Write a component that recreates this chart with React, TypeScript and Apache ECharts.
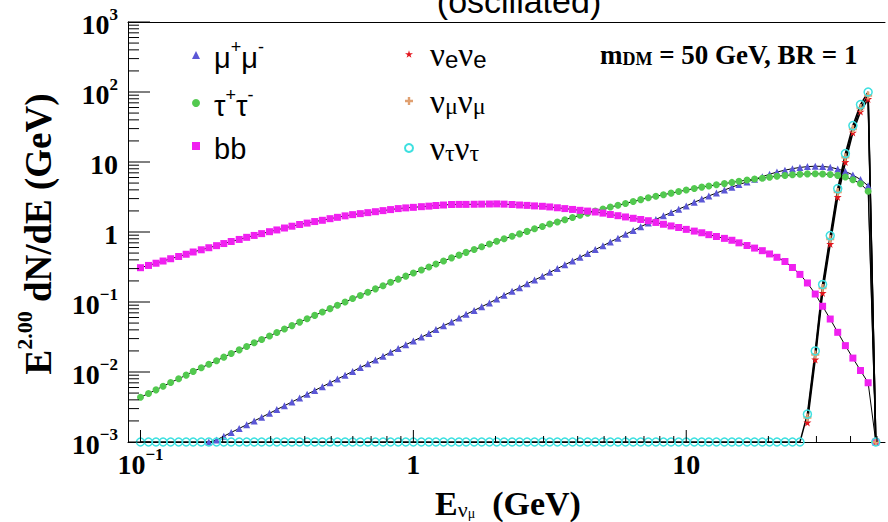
import React, { useEffect, useRef } from 'react';
import * as echarts from 'echarts';

// ---- data ----
const energies = [
  0.100, 0.107, 0.114, 0.121, 0.129, 0.138, 0.147, 0.156, 0.167, 0.178, 0.190, 0.202,
  0.215, 0.230, 0.245, 0.261, 0.278, 0.297, 0.316, 0.337, 0.359, 0.383, 0.408, 0.435,
  0.464, 0.495, 0.527, 0.562, 0.599, 0.639, 0.681, 0.726, 0.774, 0.825, 0.880, 0.938,
  1.00, 1.07, 1.14, 1.21, 1.29, 1.38, 1.47, 1.56, 1.67, 1.78, 1.90, 2.02,
  2.15, 2.30, 2.45, 2.61, 2.78, 2.97, 3.16, 3.37, 3.59, 3.83, 4.08, 4.35,
  4.64, 4.95, 5.27, 5.62, 5.99, 6.39, 6.81, 7.26, 7.74, 8.25, 8.80, 9.38,
  10.0, 10.7, 11.4, 12.1, 12.9, 13.8, 14.7, 15.6, 16.7, 17.8, 19.0, 20.2,
  21.5, 23.0, 24.5, 26.1, 27.8, 29.7, 31.6, 33.7, 35.9, 38.3, 40.8, 43.5,
  46.4, 49.5,
];

const muValues = [
  null, null, null, null, null, null, null, null, null, 0.001, 0.00107, 0.00121,
  0.00137, 0.00156, 0.00177, 0.00200, 0.00226, 0.00257, 0.00291, 0.00330, 0.00374, 0.00424, 0.00481, 0.00545,
  0.00618, 0.00700, 0.00793, 0.00899, 0.0102, 0.0116, 0.0131, 0.0148, 0.0168, 0.0191, 0.0216, 0.0245,
  0.0277, 0.0315, 0.0356, 0.0405, 0.0458, 0.0519, 0.0589, 0.0667, 0.0757, 0.0857, 0.0971, 0.110,
  0.125, 0.142, 0.160, 0.182, 0.206, 0.233, 0.265, 0.300, 0.340, 0.386, 0.437, 0.495,
  0.561, 0.635, 0.721, 0.817, 0.927, 1.05, 1.19, 1.34, 1.51, 1.70, 1.90, 2.12,
  2.36, 2.66, 2.95, 3.27, 3.61, 3.98, 4.37, 4.76, 5.19, 5.65, 6.17, 6.68,
  7.19, 7.64, 8.04, 8.36, 8.59, 8.71, 8.65, 8.41, 7.94, 7.33, 6.53, 5.62,
  4.57, 0,
];

const tauValues = [
  0.00437, 0.00492, 0.00556, 0.00627, 0.00708, 0.00800, 0.00902, 0.0102, 0.0115, 0.0129, 0.0145, 0.0163,
  0.0184, 0.0207, 0.0232, 0.0261, 0.0292, 0.0327, 0.0367, 0.0411, 0.0460, 0.0516, 0.0577, 0.0644,
  0.0719, 0.0804, 0.0897, 0.100, 0.112, 0.124, 0.138, 0.154, 0.171, 0.191, 0.212, 0.234,
  0.259, 0.286, 0.316, 0.350, 0.386, 0.427, 0.467, 0.512, 0.561, 0.614, 0.673, 0.736,
  0.800, 0.867, 0.940, 1.02, 1.11, 1.20, 1.30, 1.39, 1.50, 1.61, 1.73, 1.86,
  2.00, 2.13, 2.27, 2.41, 2.56, 2.72, 2.90, 3.08, 3.24, 3.41, 3.59, 3.78,
  3.97, 4.18, 4.38, 4.55, 4.72, 4.91, 5.11, 5.31, 5.52, 5.70, 5.87, 6.07,
  6.27, 6.41, 6.56, 6.68, 6.76, 6.79, 6.75, 6.64, 6.44, 6.11, 5.58, 4.90,
  3.82, 0,
];

const bbValues = [
  0.309, 0.333, 0.358, 0.385, 0.415, 0.447, 0.481, 0.518, 0.557, 0.596, 0.638, 0.684,
  0.731, 0.783, 0.839, 0.893, 0.948, 1.01, 1.07, 1.14, 1.21, 1.28, 1.34, 1.41,
  1.47, 1.55, 1.62, 1.70, 1.77, 1.83, 1.89, 1.95, 2.02, 2.09, 2.16, 2.21,
  2.25, 2.30, 2.34, 2.39, 2.43, 2.47, 2.48, 2.48, 2.49, 2.50, 2.51, 2.52,
  2.50, 2.47, 2.43, 2.40, 2.36, 2.33, 2.28, 2.22, 2.16, 2.10, 2.04, 1.99,
  1.93, 1.86, 1.78, 1.71, 1.64, 1.57, 1.51, 1.45, 1.37, 1.29, 1.22, 1.16,
  1.09, 1.03, 0.975, 0.916, 0.863, 0.811, 0.762, 0.700, 0.641, 0.589, 0.541, 0.486,
  0.435, 0.379, 0.311, 0.248, 0.187, 0.130, 0.0869, 0.0571, 0.0369, 0.0238, 0.0158, 0.0105,
  0.00702, 0,
];

const nuEValues = [
  null, null, null, null, null, null, null, null, null, null, null, null,
  null, null, null, null, null, null, null, null, null, null, null, null,
  null, null, null, null, null, null, null, null, null, null, null, null,
  null, null, null, null, null, null, null, null, null, null, null, null,
  null, null, null, null, null, null, null, null, null, null, null, null,
  null, null, null, null, null, null, null, null, null, null, null, null,
  null, null, null, null, null, null, null, null, null, null, null, null,
  null, null, null, null, 0.0019, 0.0151, 0.135, 0.676, 3.16, 10.0, 26.3, 52.5,
  79.4, 0,
];

const nuMuValues = [
  null, null, null, null, null, null, null, null, null, null, null, null,
  null, null, null, null, null, null, null, null, null, null, null, null,
  null, null, null, null, null, null, null, null, null, null, null, null,
  null, null, null, null, null, null, null, null, null, null, null, null,
  null, null, null, null, null, null, null, null, null, null, null, null,
  null, null, null, null, null, null, null, null, null, null, null, null,
  null, null, null, null, null, null, null, null, null, null, null, null,
  null, null, null, null, 0.00224, 0.0178, 0.158, 0.794, 3.72, 11.7, 29.5, 58.9,
  89.1, 0,
];

const nuTauValues = [
  0, 0, 0, 0, 0, 0, 0, 0, 0, 0, 0, 0,
  0, 0, 0, 0, 0, 0, 0, 0, 0, 0, 0, 0,
  0, 0, 0, 0, 0, 0, 0, 0, 0, 0, 0, 0,
  0, 0, 0, 0, 0, 0, 0, 0, 0, 0, 0, 0,
  0, 0, 0, 0, 0, 0, 0, 0, 0, 0, 0, 0,
  0, 0, 0, 0, 0, 0, 0, 0, 0, 0, 0, 0,
  0, 0, 0, 0, 0, 0, 0, 0, 0, 0, 0, 0,
  0, 0, 0, 0, 0.0025, 0.020, 0.178, 0.89, 4.17, 13.2, 33.1, 66.1,
  100, 0,
];

const xMajorTicks = [0.1, 1, 10];
const xTickLabels = ['{b|10}{s|−1}', '{b|1}', '{b|10}'];
const yMajorTicks = [0.001, 0.01, 0.1, 1, 10, 100, 1000];
const yTickLabels = ['{b|10}{s|−3}', '{b|10}{s|−2}', '{b|10}{s|−1}', '{b|1}', '{b|10}', '{b|10}{s|2}', '{b|10}{s|3}'];
const minorMantissas = [2, 3, 4, 5, 6, 7, 8, 9];

const seriesNames = ['mumu', 'tautau', 'bb', 'nuenue', 'numunumu', 'nutaunutau'];
const legendLabels: Record<string, string> = {
  mumu: '{t|μ}{sup|+}{t|μ}{sup|-}',
  tautau: '{t|τ}{sup|+}{t|τ}{sup|-}',
  bb: '{t|bb}',
  nuenue: '{nu|ν}{sub|e}{nu|ν}{sub|e}',
  numunumu: '{nu|ν}{subs|μ}{nu|ν}{subs|μ}',
  nutaunutau: '{nu|ν}{subs|τ}{nu|ν}{subs|τ}',
};

// ---- layout / styles ----
const X_MIN = 0.09;
const X_MAX = 53.5;
const Y_MIN = 0.001;
const Y_MAX = 1000;
const SERIF = '"Liberation Serif", "DejaVu Serif", serif';
const SANS = '"Liberation Sans", Arial, sans-serif';
const STAR = 'path://M50,0 L61,35 98,35 68,57 79,91 50,70 21,91 32,57 2,35 39,35 Z';
const CROSS = 'path://M35,0 H65 V35 H100 V65 H65 V100 H35 V65 H0 V35 H35 Z';

const isPow = (v: number, t: number) => Math.abs(Math.log10(v) - Math.log10(t)) < 1e-6;

const toPoints = (vals: (number | null)[]) =>
  energies.map((e, i) => {
    const v = vals[i];
    // ROOT draws empty bins on the axis floor
    return [e, v === null || v === undefined ? '-' : v === 0 ? Y_MIN : v];
  });

const labelRich = {
  b: { fontSize: 28, fontWeight: 'bold', fontFamily: SERIF, color: '#000', lineHeight: 32, verticalAlign: 'bottom' },
  s: { fontSize: 17, fontWeight: 'bold', fontFamily: SERIF, color: '#000', lineHeight: 14, verticalAlign: 'top' },
};

const lineSeries = (name: string, vals: (number | null)[], symbol: string, size: number, itemStyle: any, lineWidth: number) => ({
  type: 'line',
  name,
  data: toPoints(vals),
  symbol,
  symbolSize: size,
  showAllSymbol: true,
  clip: false,
  silent: true,
  itemStyle,
  lineStyle: { color: '#000', width: lineWidth },
});

const buildTicks = () => {
  const yTicks: number[][] = [];
  for (let d = -3; d < 3; d++) {
    yTicks.push([X_MIN, Math.pow(10, d), 1]);
    for (const m of minorMantissas) yTicks.push([X_MIN, m * Math.pow(10, d), 0]);
  }
  yTicks.push([X_MIN, Y_MAX, 1]);
  const xTicks: number[][] = [];
  for (let d = -1; d <= 1; d++) {
    xTicks.push([Math.pow(10, d), Y_MIN, 1]);
    for (const m of minorMantissas) {
      const v = m * Math.pow(10, d);
      if (v < X_MAX) xTicks.push([v, Y_MIN, 0]);
    }
  }
  return { yTicks, xTicks };
};

const tickSeries = (data: number[][], dir: 'x' | 'y') => ({
  type: 'custom',
  coordinateSystem: 'cartesian2d',
  silent: true,
  z: 20,
  dimensions: ['x', 'y', 'm'],
  encode: { x: 0, y: 1 },
  data,
  renderItem: (_p: any, api: any) => {
    const p = api.coord([api.value(0), api.value(1)]);
    const major = api.value(2) === 1;
    const len = dir === 'y' ? (major ? 22 : 11) : major ? 12 : 6;
    const shape =
      dir === 'y'
        ? { x1: p[0], y1: p[1], x2: p[0] + len, y2: p[1] }
        : { x1: p[0], y1: p[1], x2: p[0], y2: p[1] - len };
    return { type: 'line', shape, style: { stroke: '#000', lineWidth: 1 } };
  },
});

const legendRich = {
  t: { fontSize: 29, fontFamily: SANS, color: '#000', lineHeight: 34, verticalAlign: 'bottom' },
  sup: { fontSize: 18, fontFamily: SANS, color: '#000', lineHeight: 16, verticalAlign: 'top' },
  nu: { fontSize: 33, fontFamily: SERIF, color: '#000', lineHeight: 34, verticalAlign: 'bottom' },
  sub: { fontSize: 24, fontFamily: SANS, color: '#000', lineHeight: 12, verticalAlign: 'bottom' },
  subs: { fontSize: 24, fontFamily: SERIF, color: '#000', lineHeight: 12, verticalAlign: 'bottom' },
};

const axisLineStyle = { show: true, lineStyle: { color: '#000', width: 1 } };

function buildOption() {
  const { yTicks, xTicks } = buildTicks();
  const legendBase = {
    orient: 'vertical',
    top: 33,
    itemWidth: 8,
    itemHeight: 8,
    itemGap: 14,
    selectedMode: false,
    formatter: (name: string) => legendLabels[name],
  };
  return {
    animation: false,
    backgroundColor: '#fff',
    grid: { left: 128, right: 0, top: 22, bottom: 80, show: false },
    xAxis: [
      {
        type: 'log',
        logBase: 10,
        min: X_MIN,
        max: X_MAX,
        axisLine: axisLineStyle,
        axisTick: { show: false },
        splitLine: { show: false },
        axisLabel: {
          margin: 4,
          formatter: (v: number) => {
            const i = xMajorTicks.findIndex((t) => isPow(v, t));
            return i >= 0 ? xTickLabels[i] : '';
          },
          rich: labelRich,
        },
      },
      {
        type: 'log',
        logBase: 10,
        min: X_MIN,
        max: X_MAX,
        position: 'top',
        axisLine: axisLineStyle,
        axisTick: { show: false },
        axisLabel: { show: false },
        splitLine: { show: false },
      },
    ],
    yAxis: {
      type: 'log',
      logBase: 10,
      min: Y_MIN,
      max: Y_MAX,
      axisLine: axisLineStyle,
      axisTick: { show: false },
      splitLine: { show: false },
      axisLabel: {
        margin: 10,
        formatter: (v: number) => {
          const i = yMajorTicks.findIndex((t) => isPow(v, t));
          return i >= 0 ? yTickLabels[i] : '';
        },
        rich: labelRich,
      },
    },
    legend: [
      {
        ...legendBase,
        left: 187,
        data: [
          { name: 'mumu', icon: 'triangle' },
          { name: 'tautau', icon: 'circle' },
          { name: 'bb', icon: 'rect' },
        ],
        textStyle: { padding: [0, 0, 0, 9], rich: legendRich },
      },
      {
        ...legendBase,
        left: 399,
        data: [
          { name: 'nuenue', icon: STAR },
          { name: 'numunumu', icon: CROSS },
          { name: 'nutaunutau', icon: 'circle' },
        ],
        textStyle: { padding: [0, 0, 0, 12], rich: legendRich },
      },
    ],
    graphic: [
      {
        type: 'text',
        x: 519,
        y: 1,
        style: { text: '(oscillated)', fontSize: 34, fontFamily: SANS, fill: '#000', align: 'center', verticalAlign: 'middle' },
      },
      {
        type: 'text',
        x: 600,
        y: 52,
        style: {
          text: '{m|m}{d|DM}{m| = 50 GeV, BR = 1}',
          align: 'left',
          verticalAlign: 'middle',
          rich: {
            m: { fontSize: 27, fontWeight: 'bold', fontFamily: SERIF, fill: '#000', lineHeight: 32, verticalAlign: 'bottom' },
            d: { fontSize: 18, fontWeight: 'bold', fontFamily: SERIF, fill: '#000', lineHeight: 20, verticalAlign: 'bottom' },
          },
        },
      },
      {
        type: 'text',
        x: 35,
        y: 234,
        rotation: Math.PI / 2,
        style: {
          text: '{e|E}{s|2.00}{e| dN/dE (GeV)}',
          align: 'center',
          verticalAlign: 'middle',
          rich: {
            e: { fontSize: 37, fontWeight: 'bold', fontFamily: SERIF, fill: '#000', lineHeight: 44, verticalAlign: 'bottom' },
            s: { fontSize: 22, fontWeight: 'bold', fontFamily: SERIF, fill: '#000', lineHeight: 26, verticalAlign: 'top' },
          },
        },
      },
      {
        type: 'text',
        x: 508,
        y: 500,
        style: {
          text: '{e|E}{n|ν}{u|μ}{e|  (GeV)}',
          align: 'center',
          verticalAlign: 'middle',
          rich: {
            e: { fontSize: 34, fontWeight: 'bold', fontFamily: SERIF, fill: '#000', lineHeight: 40, verticalAlign: 'bottom' },
            n: { fontSize: 22, fontFamily: SERIF, fill: '#000', lineHeight: 32, verticalAlign: 'bottom' },
            u: { fontSize: 14, fontFamily: SERIF, fill: '#000', lineHeight: 22, verticalAlign: 'bottom' },
          },
        },
      },
    ],
    series: [
      lineSeries(seriesNames[0], muValues, 'triangle', 7, { color: '#5b57d6' }, 1),
      lineSeries(seriesNames[1], tauValues, 'circle', 7, { color: '#52c94f' }, 1),
      lineSeries(seriesNames[2], bbValues, 'rect', 7, { color: '#f020f0' }, 1),
      lineSeries(seriesNames[3], nuEValues, STAR, 8, { color: '#e3141c' }, 1.5),
      lineSeries(seriesNames[4], nuMuValues, CROSS, 8, { color: '#e0a070' }, 1.5),
      lineSeries(seriesNames[5], nuTauValues, 'circle', 8, { color: 'rgba(0,0,0,0)', borderColor: '#3ee0e0', borderWidth: 1.5 }, 1.5),
      tickSeries(yTicks, 'y'),
      tickSeries(xTicks, 'x'),
    ],
  };
}

export default function App() {
  const ref = useRef<HTMLDivElement>(null);
  useEffect(() => {
    if (!ref.current) return;
    const chart = echarts.init(ref.current, undefined, { renderer: 'svg' });
    chart.setOption(buildOption() as any);
    return () => chart.dispose();
  }, []);
  return (
    <div
      ref={ref}
      style={{ position: 'fixed', left: 0, top: 0, width: 888, height: 522, background: '#fff' }}
    />
  );
}
